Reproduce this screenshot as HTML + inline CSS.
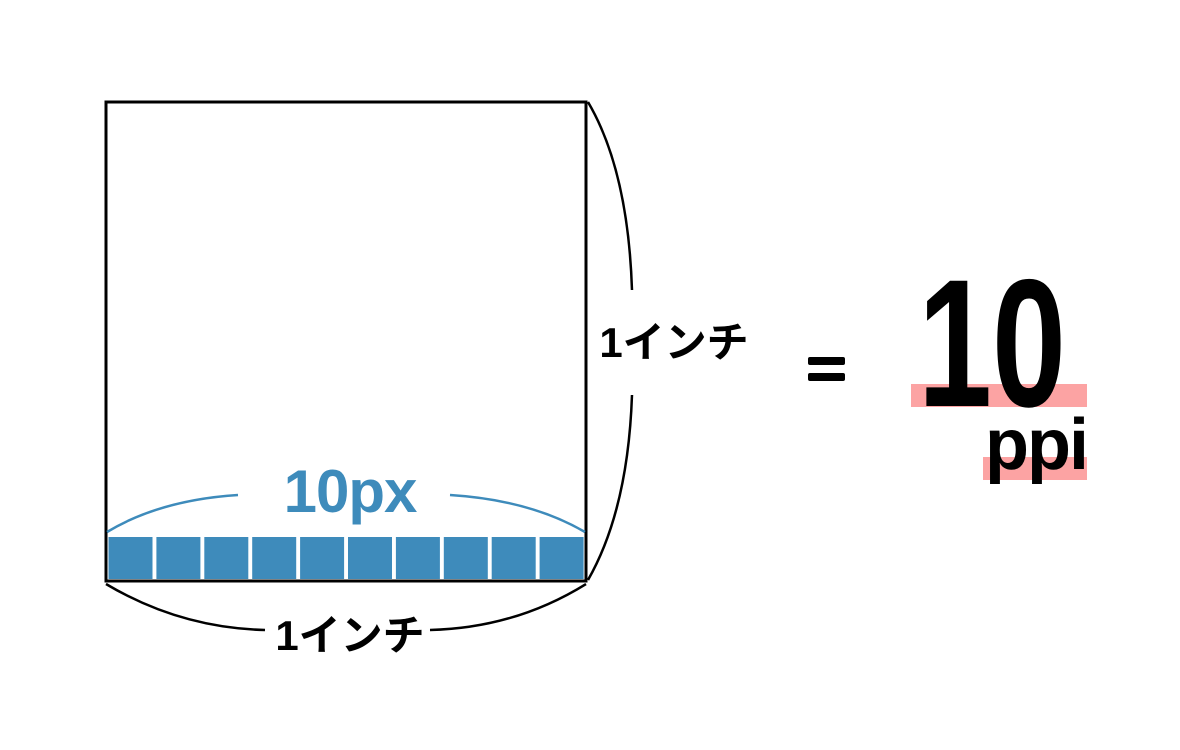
<!DOCTYPE html>
<html><head><meta charset="utf-8">
<style>
html,body{margin:0;padding:0;background:#fff;width:1180px;height:750px;overflow:hidden}
svg{display:block}
text{font-family:"Liberation Sans","Noto Sans CJK JP",sans-serif;font-weight:bold}
</style></head>
<body>
<svg id="fig" width="1180" height="750" viewBox="0 0 1180 750">
  <rect x="106" y="102" width="480" height="479" fill="none" stroke="#000" stroke-width="3"/>
  <g id="pixels"></g>
  <path d="M107,532 Q160,500 238,495" fill="none" stroke="#3e8bbb" stroke-width="2.5"/>
  <path d="M450,495 Q530,500 585,532" fill="none" stroke="#3e8bbb" stroke-width="2.5"/>
  <text x="350" y="512" font-size="60" fill="#3e8bbb" text-anchor="middle" letter-spacing="-1">10px</text>
  <path d="M106,584 Q180,628 265,630" fill="none" stroke="#000" stroke-width="2.5"/>
  <path d="M430,630 Q515,628 586,584" fill="none" stroke="#000" stroke-width="2.5"/>
  <text x="350" y="650" font-size="42" fill="#000" text-anchor="middle">1インチ</text>
  <path d="M588,102 Q628,170 632,290" fill="none" stroke="#000" stroke-width="2.5"/>
  <path d="M632,395 Q628,510 588,580" fill="none" stroke="#000" stroke-width="2.5"/>
  <text x="674" y="357" font-size="42" fill="#000" text-anchor="middle">1インチ</text>
  <rect x="808" y="357" width="37" height="8" rx="2" fill="#000"/>
  <rect x="808" y="373" width="37" height="8" rx="2" fill="#000"/>
  <rect x="911" y="384" width="176" height="23" fill="#fca3a3"/>
  <rect x="983" y="457" width="104" height="23" fill="#fca3a3"/>
  <text x="918" y="406" font-size="182" fill="#000" textLength="148" lengthAdjust="spacingAndGlyphs">10</text>
  <text x="1036" y="469" font-size="72" fill="#000" text-anchor="middle" letter-spacing="-2">ppi</text>
</svg>
<script>
const pixelIndices = [0,1,2,3,4,5,6,7,8,9];
const g = document.getElementById('pixels');
pixelIndices.forEach(function(i){
  const r = document.createElementNS('http://www.w3.org/2000/svg','rect');
  r.setAttribute('x', 108.5 + i*47.9);
  r.setAttribute('y', 537);
  r.setAttribute('width', 44);
  r.setAttribute('height', 42);
  r.setAttribute('fill', '#3e8bbb');
  
  
  g.appendChild(r);
});
</script>
</body></html>
